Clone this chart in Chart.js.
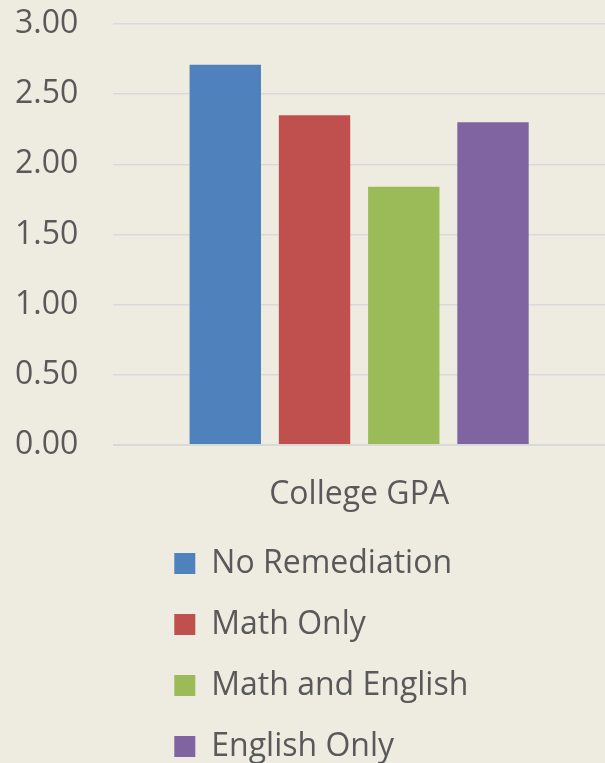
<!DOCTYPE html>
<html lang="en">
<head>
  <meta charset="UTF-8">
  <title>College GPA by Remediation</title>
  <script src="https://cdn.jsdelivr.net/npm/chart.js"></script>
  <style>
    body {
      margin: 0;
      background: #EEECE1;
    }
    #wrap {
      position: relative;
      width: 605px;
      height: 763px;
    }
  </style>
</head>
<body>
  <div id="wrap">
    <canvas id="gpaChart"></canvas>
  </div>

  <script>
    // data
    const categories = ['College GPA'];
    const groupNames = ['No Remediation', 'Math Only', 'Math and English', 'English Only'];
    const gpaValues = [2.71, 2.35, 1.84, 2.30];
    const groupColors = ['#4F81BD', '#C0504D', '#9BBB59', '#8064A2'];

    const textColor = '#595959';
    const fontFamily = '"Open Sans", "Noto Sans", sans-serif';

    // one dataset per group so each bar gets its own legend entry
    const datasets = groupNames.map((name, i) => ({
      label: name,
      data: [gpaValues[i]],
      backgroundColor: groupColors[i],
      borderWidth: 0
    }));

    // push the stacked legend rows in from the plot's left edge
    const legendIndent = {
      id: 'legendIndent',
      afterUpdate(chart) {
        chart.legend.left += 32;
      }
    };

    new Chart(document.getElementById('gpaChart'), {
      type: 'bar',
      data: {
        labels: categories,
        datasets: datasets
      },
      plugins: [legendIndent],
      options: {
        responsive: true,
        maintainAspectRatio: false,
        animation: false,
        layout: {
          // gridlines run off the right edge
          padding: { top: 24, left: 15, right: -5, bottom: 0 }
        },
        datasets: {
          bar: {
            categoryPercentage: 0.726,
            barPercentage: 0.8
          }
        },
        scales: {
          x: {
            // invisible tick marks give the gap under the baseline
            grid: {
              drawOnChartArea: false,
              drawTicks: true,
              tickLength: 27,
              tickColor: 'transparent'
            },
            border: { display: false },
            ticks: {
              color: textColor,
              padding: 4,
              font: { family: fontFamily, size: 32 }
            }
          },
          y: {
            min: 0,
            max: 3,
            grid: {
              color: '#D9D9D9',
              lineWidth: c => (c.tick && c.tick.value === 0 ? 2 : 1.5),
              drawTicks: true,
              tickLength: 35,
              tickColor: 'transparent'
            },
            border: { display: false },
            ticks: {
              stepSize: 0.5,
              padding: 0,
              color: textColor,
              font: { family: fontFamily, size: 32 },
              callback: v => v.toFixed(2)
            }
          }
        },
        plugins: {
          tooltip: { enabled: false },
          legend: {
            position: 'bottom',
            align: 'start',
            fullSize: false,
            maxHeight: 244.5,
            labels: {
              color: textColor,
              boxWidth: 21,
              boxHeight: 21,
              padding: 29,
              font: { family: fontFamily, size: 32 }
            }
          }
        }
      }
    });
  </script>
</body>
</html>
